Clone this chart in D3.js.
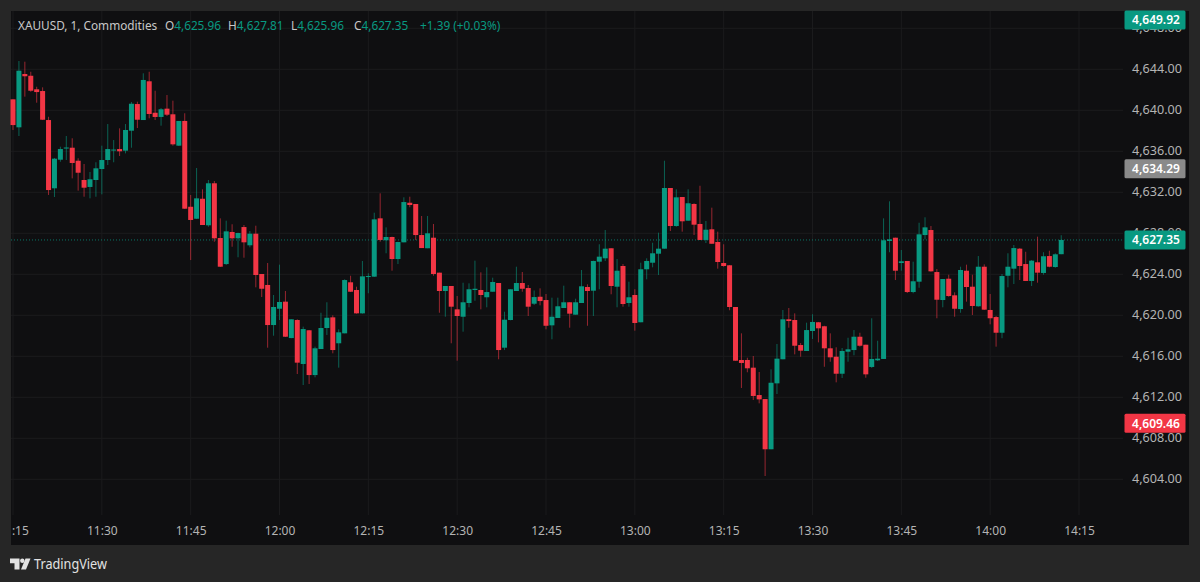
<!DOCTYPE html>
<html>
<head>
<meta charset="utf-8">
<title>XAUUSD</title>
<script src="https://cdn.jsdelivr.net/npm/d3@7"></script>
<style>
  html, body { margin: 0; padding: 0; background: #262626; }
  svg { display: block; font-family: "Noto Sans", sans-serif; }
</style>
</head>
<body>
<svg id="chart" width="1200" height="582"></svg>
<script>
const firstBar = '11:15'
const opens = [4641.07,4638.34,4643.54,4643.37,4642.05,4641.88,4639.05,4632.39,4635.18,4636.27,4636.35,4635.08,4633.20,4632.52,4633.20,4634.27,4635.15,4636.08,4636.22,4636.06,4638.01,4640.61,4639.05,4642.83,4639.76,4639.35,4640.16,4639.61,4636.55,4638.96,
  4630.59,4629.42,4631.37,4628.78,4632.88,4627.54,4625.00,4628.13,4627.51,4628.61,4626.83,4627.96,4624.03,4622.96,4619.05,4620.64,4621.33,4617.78,4619.54,4615.25,4618.54,4614.17,4616.71,4618.76,4619.80,4617.27,4618.24,4623.22,4622.47,4620.19,
  4623.77,4623.77,4629.46,4627.32,4627.64,4625.49,4627.12,4630.98,4630.86,4627.83,4626.54,4627.57,4624.16,4622.37,4622.86,4620.58,4619.86,4621.20,4622.47,4622.47,4621.76,4622.30,4623.15,4616.84,4619.54,4622.37,4623.15,4622.66,4621.13,4621.81,
  4621.49,4619.02,4619.74,4620.71,4621.27,4620.06,4621.20,4622.76,4622.40,4625.23,4625.56,4626.54,4622.79,4624.81,4621.20,4621.98,4619.32,4624.49,4625.13,4626.01,4626.50,4632.42,4628.71,4631.54,4629.23,4630.86,4628.91,4627.35,4628.39,4627.15,
  4625.10,4624.88,4620.81,4615.64,4615.64,4614.89,4612.22,4611.83,4606.93,4613.36,4615.71,4619.61,4619.54,4617.10,4616.52,4618.47,4619.32,4618.93,4616.78,4615.96,4614.30,4616.45,4616.61,4617.91,4617.13,4614.96,4615.61,4615.74,4627.25,4627.57,
  4625.10,4625.30,4622.27,4623.28,4627.83,4628.32,4624.22,4621.49,4623.57,4621.95,4620.61,4624.35,4622.79,4620.88,4624.74,4620.52,4619.83,4618.30,4623.86,4624.55,4626.50,4625.00,4623.35,4625.17,4624.13,4625.78,4624.71,4625.96]
const highs = [4641.07,4644.81,4644.74,4643.76,4642.30,4642.24,4639.37,4635.35,4636.45,4637.49,4637.27,4635.32,4634.76,4633.98,4634.93,4636.55,4638.66,4637.10,4638.24,4638.66,4640.81,4640.84,4643.61,4643.76,4641.91,4640.22,4641.49,4640.94,4638.96,4639.71,
  4631.74,4634.37,4632.29,4633.20,4633.10,4629.46,4629.23,4628.88,4628.06,4628.81,4628.22,4628.74,4624.03,4625.10,4621.98,4624.94,4622.37,4619.61,4619.61,4618.89,4618.56,4616.94,4620.25,4621.27,4620.00,4618.63,4623.51,4623.86,4622.79,4625.30,
  4624.10,4630.01,4631.90,4628.58,4627.67,4627.18,4631.51,4631.57,4630.86,4629.69,4629.69,4628.91,4624.16,4622.86,4622.86,4621.88,4623.18,4623.12,4625.33,4624.19,4624.68,4623.67,4623.15,4620.35,4622.54,4624.74,4624.22,4622.96,4622.42,4622.63,
  4622.08,4621.72,4621.72,4622.89,4621.27,4621.62,4624.42,4623.02,4625.33,4626.93,4628.32,4626.54,4625.49,4625.00,4623.28,4622.54,4625.13,4625.56,4627.08,4628.06,4635.08,4632.42,4632.29,4631.54,4632.29,4630.93,4632.64,4629.20,4630.50,4628.16,
  4626.93,4624.91,4620.81,4618.24,4615.86,4616.03,4614.47,4611.83,4614.73,4617.20,4620.52,4620.71,4620.19,4617.30,4619.28,4620.10,4619.35,4618.98,4618.24,4616.88,4616.81,4617.81,4618.56,4618.30,4617.13,4619.71,4617.52,4629.46,4631.12,4627.57,
  4626.37,4625.30,4625.23,4629.03,4629.56,4628.71,4624.52,4623.54,4623.96,4622.24,4624.74,4624.94,4623.96,4625.78,4624.97,4622.08,4619.93,4624.03,4626.05,4626.86,4626.56,4626.20,4625.39,4627.67,4626.15,4626.30,4626.05,4627.81]
const lows = [4638.08,4637.49,4641.33,4641.81,4640.74,4639.05,4631.74,4631.54,4634.98,4635.15,4633.36,4632.16,4631.57,4631.41,4631.57,4631.80,4634.66,4634.93,4635.54,4635.80,4636.35,4638.27,4639.05,4639.22,4639.05,4638.50,4639.44,4636.55,4636.52,4630.37,
  4625.39,4629.39,4628.81,4628.64,4627.18,4624.71,4624.91,4626.69,4625.66,4625.62,4626.63,4622.73,4621.78,4616.84,4618.01,4619.54,4617.88,4617.76,4614.27,4613.20,4613.30,4613.95,4616.71,4618.08,4616.29,4614.89,4618.24,4622.27,4620.16,4620.16,
  4622.15,4623.74,4627.18,4626.05,4624.35,4625.00,4627.12,4630.54,4627.35,4626.56,4626.54,4623.86,4620.25,4619.86,4617.27,4615.57,4618.40,4620.78,4621.42,4620.58,4620.78,4622.30,4615.71,4616.61,4619.51,4622.37,4622.30,4619.93,4621.00,4620.97,
  4618.63,4617.66,4619.74,4620.71,4618.79,4620.06,4621.20,4618.98,4619.93,4622.54,4625.30,4622.05,4620.78,4620.84,4620.84,4618.50,4619.32,4623.51,4624.68,4623.93,4626.50,4628.22,4628.64,4628.16,4629.23,4627.83,4627.35,4627.05,4626.98,4624.55,
  4624.74,4620.49,4615.57,4612.91,4614.44,4611.74,4611.41,4604.32,4606.93,4612.32,4615.71,4618.79,4616.19,4615.96,4616.52,4617.69,4617.36,4614.98,4615.47,4613.46,4613.88,4615.47,4616.10,4616.94,4613.91,4614.86,4615.54,4615.74,4626.15,4623.44,
  4624.35,4622.17,4622.15,4622.69,4627.41,4624.25,4619.71,4620.78,4621.81,4619.86,4620.25,4621.33,4620.03,4620.84,4620.52,4619.12,4616.94,4617.76,4622.73,4623.05,4623.44,4623.35,4622.86,4623.18,4623.96,4624.68,4624.64,4625.96]
const closes = [4638.56,4643.86,4643.32,4641.91,4641.78,4639.08,4632.22,4635.28,4636.22,4636.37,4634.86,4633.91,4632.45,4633.27,4634.34,4635.15,4636.22,4636.17,4636.00,4638.08,4640.64,4639.08,4642.96,4639.64,4639.35,4640.10,4639.57,4636.68,4638.96,4630.40,
  4629.30,4631.41,4628.81,4632.88,4627.51,4624.74,4628.19,4627.51,4628.03,4627.12,4627.96,4623.93,4622.59,4619.05,4620.81,4621.30,4617.91,4619.61,4615.38,4618.66,4614.17,4616.78,4618.76,4619.76,4616.61,4618.34,4623.44,4622.30,4620.19,4623.80,
  4623.83,4629.36,4627.35,4627.64,4625.49,4627.15,4631.05,4630.76,4627.83,4626.56,4628.00,4624.03,4622.37,4622.86,4620.84,4619.93,4621.27,4622.54,4622.59,4621.98,4622.27,4623.25,4616.61,4619.57,4622.54,4623.15,4622.59,4620.84,4621.78,4621.39,
  4618.98,4619.86,4620.88,4621.27,4620.16,4621.27,4622.83,4622.37,4625.30,4625.72,4626.50,4622.86,4624.35,4621.10,4621.76,4619.25,4624.49,4625.30,4626.05,4626.50,4632.42,4628.71,4631.51,4629.17,4630.93,4628.84,4627.35,4628.35,4626.98,4625.20,
  4624.81,4620.81,4615.57,4615.35,4614.83,4612.13,4611.80,4606.93,4613.42,4615.77,4619.61,4619.44,4617.03,4616.55,4618.56,4619.35,4618.73,4616.78,4615.90,4614.30,4616.52,4616.68,4617.91,4617.03,4614.24,4615.74,4615.77,4627.32,4627.41,4624.35,
  4625.27,4622.27,4623.32,4627.90,4628.58,4624.29,4621.52,4623.54,4621.88,4620.64,4624.42,4622.76,4620.91,4624.74,4620.55,4619.71,4618.30,4623.83,4624.74,4626.56,4624.81,4623.35,4625.33,4624.16,4625.76,4624.74,4625.95,4627.35]

const yTicks = [4604,4608,4612,4616,4620,4624,4628,4632,4636,4640,4644,4648]
const xTicks = ['11:15','11:30','11:45','12:00','12:15','12:30','12:45','13:00','13:15','13:30','13:45','14:00','14:15']

// last price, plus the three other price tags on the right
const tagPrices = [4649.92, 4634.29, 4627.35, 4609.46]
const tagColors = ['#089981', '#8a8a8a', '#089981', '#f23645']

const legendKeys = ['O', 'H', 'L', 'C']
const legendValues = ['4,625.96', '4,627.81', '4,625.96', '4,627.35']
const legendChange = '+1.39 (+0.03%)'

const width = 1200
const height = 582
const frame = {left: 11, right: 1189, top: 11, bottom: 545}
const plotRight = 1123
const up = '#089981'
const down = '#f23645'
const gridColor = '#1b1b1d'

const parseTime = d3.timeParse('%H:%M')
const times = closes.map((_, i) => d3.timeMinute.offset(parseTime(firstBar), i))

const x = d3.scaleTime()
  .domain([parseTime('11:15'), parseTime('14:15')])
  .range([13, 1079])
const y = d3.scaleLinear()
  .domain([4604, 4644])
  .range([479.3, 69.3])

const svg = d3.select('#chart')

svg.append('rect').attr('width', width).attr('height', height).attr('fill', '#262626')
svg.append('rect')
  .attr('x', frame.left).attr('y', frame.top)
  .attr('width', frame.right - frame.left).attr('height', frame.bottom - frame.top)
  .attr('fill', '#0f0f11')

svg.append('defs').append('clipPath').attr('id', 'frame-clip')
  .append('rect')
  .attr('x', frame.left).attr('y', frame.top)
  .attr('width', frame.right - frame.left).attr('height', frame.bottom - frame.top)

// grid
const grid = svg.append('g').attr('clip-path', 'url(#frame-clip)')
grid.selectAll('.h').data(yTicks).join('line')
  .attr('x1', frame.left).attr('x2', plotRight)
  .attr('y1', d => y(d)).attr('y2', d => y(d))
  .attr('stroke', gridColor)
grid.selectAll('.v').data(xTicks).join('line')
  .attr('x1', d => x(parseTime(d))).attr('x2', d => x(parseTime(d)))
  .attr('y1', frame.top).attr('y2', 515)
  .attr('stroke', gridColor)

// axes
const xAxis = d3.axisBottom(x)
  .tickValues(xTicks.map(parseTime))
  .tickFormat(d3.timeFormat('%H:%M'))
  .tickSize(0)
const xAxisG = svg.append('g')
  .attr('clip-path', 'url(#frame-clip)')
  .append('g')
  .attr('transform', 'translate(0,523)')
  .call(xAxis)
xAxisG.select('.domain').remove()
xAxisG.selectAll('text').attr('fill', '#b4b4b4').attr('font-size', 12).attr('font-family', '"Noto Sans", sans-serif')

const yAxis = d3.axisRight(y)
  .tickValues(yTicks)
  .tickFormat(d3.format(',.2f'))
  .tickSize(0)
const yAxisG = svg.append('g')
  .attr('transform', 'translate(1129,-1)')
  .call(yAxis)
yAxisG.select('.domain').remove()
yAxisG.selectAll('text').attr('fill', '#b4b4b4').attr('font-size', 12.6).attr('font-family', '"Noto Sans", sans-serif')

// last price line
svg.append('line')
  .attr('x1', frame.left).attr('x2', 1124)
  .attr('y1', y(closes[closes.length - 1])).attr('y2', y(closes[closes.length - 1]))
  .attr('stroke', up).attr('stroke-opacity', 0.75)
  .attr('stroke-dasharray', '1 2')

// candles
const bodyWidth = 5
const candles = svg.append('g').selectAll('g').data(times).join('g')
candles.append('line')
  .attr('x1', d => x(d)).attr('x2', d => x(d))
  .attr('y1', (d, i) => y(highs[i])).attr('y2', (d, i) => y(lows[i]))
  .attr('stroke', (d, i) => closes[i] >= opens[i] ? up : down)
  .attr('stroke-opacity', 0.6)
candles.append('rect')
  .attr('x', d => x(d) - bodyWidth / 2)
  .attr('width', bodyWidth)
  .attr('y', (d, i) => y(Math.max(opens[i], closes[i])))
  .attr('height', (d, i) => Math.max(1, Math.abs(y(opens[i]) - y(closes[i]))))
  .attr('fill', (d, i) => closes[i] >= opens[i] ? up : down)

// price tags
const tags = svg.append('g').selectAll('g').data(tagPrices).join('g')
  .attr('transform', d => `translate(1124.5,${Math.max(20, y(d))})`) // top one is pinned inside the pane
tags.append('rect')
  .attr('y', -9.5).attr('width', 61).attr('height', 19).attr('rx', 1.5)
  .attr('fill', (d, i) => tagColors[i])
tags.append('text')
  .attr('x', 31.5).attr('dy', '0.35em')
  .attr('text-anchor', 'middle')
  .attr('fill', '#fff').attr('font-size', 12).attr('font-weight', 600)
  .text(d => d3.format(',.2f')(d))

// header
const header = svg.append('text').attr('y', 30).attr('font-size', 11.8).attr('fill', '#c8c8c8')
header.append('tspan').attr('x', 18).text('XAUUSD, 1, Commodities')
const legendStart = [165, 228, 291, 354]
legendKeys.forEach((k, i) => {
  header.append('tspan').attr('x', legendStart[i]).text(k)
  header.append('tspan').attr('fill', up).text(legendValues[i])
})
header.append('tspan').attr('x', 420).attr('fill', up).text(legendChange)

// logo
const logo = svg.append('g').attr('fill', '#e2e2e2')
logo.append('path').attr('d', 'M10 558.5h9.5v11h-5v-6.2h-4.5z')
logo.append('circle').attr('cx', 22.3).attr('cy', 560.8).attr('r', 2.2)
logo.append('path').attr('d', 'M25.5 558.5h5l-4.5 11h-5z')
svg.append('text')
  .attr('x', 34).attr('y', 569)
  .attr('font-size', 14).attr('fill', '#e2e2e2')
  .attr('textLength', 73).attr('lengthAdjust', 'spacingAndGlyphs')
  .text('TradingView')
</script>
</body>
</html>
